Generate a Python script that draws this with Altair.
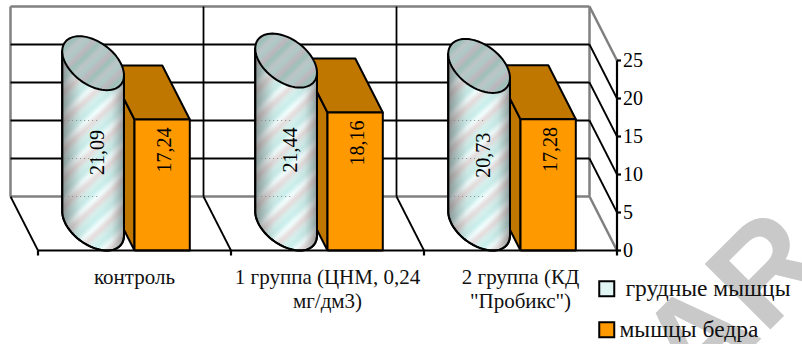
import math
import altair as alt
import pandas as pd

categories = ["контроль", "1 группа (ЦНМ, 0,24\nмг/дм3)", "2 группа (КД\n\"Пробикс\")"]
series_names = ["\u200b\u00a0грудные мышцы", "мышцы бедра"]
breast_values = [21.09, 21.44, 20.73]
thigh_values = [17.24, 18.16, 17.28]
value_ticks = [0, 5, 10, 15, 20, 25]

SERIF = "Liberation Serif"
W, H = 802, 344
PX_PER_CAT, PX_PER_VALUE = 193, 7.6
ORIGIN_X, ORIGIN_Y = 38, 250.5
# Oblique projection of the chart depth, in scale units
DEPTH_X, DEPTH_Y = -27.5 / PX_PER_CAT, 54 / PX_PER_VALUE
BAR_W = 55.3 / PX_PER_CAT
GAP = (1 - 2 * BAR_W) / 2

x_scale = alt.Scale(domain=[-ORIGIN_X / PX_PER_CAT, (W - ORIGIN_X) / PX_PER_CAT], range=[0, W], nice=False, zero=False)
y_scale = alt.Scale(domain=[(ORIGIN_Y - H) / PX_PER_VALUE, ORIGIN_Y / PX_PER_VALUE], range=[H, 0], nice=False, zero=False)
X = alt.X("x:Q", scale=x_scale, axis=None)
Y = alt.Y("y:Q", scale=y_scale, axis=None)


def segments(rows, color, width, dash=None):
    kw = {"strokeDash": dash} if dash else {}
    return alt.Chart(pd.DataFrame(rows, columns=["x", "y", "x2", "y2"])).mark_rule(
        color=color, strokeWidth=width, **kw
    ).encode(x=X, y=Y, x2="x2:Q", y2="y2:Q")


def polygons(shapes, fill, stroke="black", width=2.0):
    rows = []
    for sid, pts in enumerate(shapes):
        for i, (px, py) in enumerate(list(pts) + [pts[0]]):
            rows.append({"sid": sid, "i": i, "x": px, "y": py})
    kw = {"stroke": stroke, "strokeWidth": width} if stroke else {"strokeWidth": 0}
    return alt.Chart(pd.DataFrame(rows)).mark_line(
        fill=fill, strokeJoin="round", **kw
    ).encode(x=X, y=Y, detail="sid:N", order="i:Q")


def ellipse_point(cx, cy, t):
    half = BAR_W / 2
    return (cx + half * math.cos(t) + DEPTH_X / 2 * math.sin(t),
            cy + DEPTH_Y / 2 * math.sin(t))


def striped(colors, periods, w, h):
    # Diagonal bands at 45 degrees, corrected for the box proportions
    r = h / w
    ux = (1 + r) / (1 + r * r)
    stops = []
    n = len(colors)
    total = periods * n
    for k in range(total + 1):
        stops.append(alt.GradientStop(offset=k / total, color=colors[k % n]))
    return alt.LinearGradient(gradient="linear", stops=stops, x1=0, y1=0, x2=ux, y2=ux * r)


# Walls and floor
top = value_ticks[-1]
back_gray = [
    (DEPTH_X, DEPTH_Y, DEPTH_X, top + DEPTH_Y),
    (DEPTH_X, top + DEPTH_Y, 3 + DEPTH_X, top + DEPTH_Y),
    (3 + DEPTH_X, DEPTH_Y, 3 + DEPTH_X, top + DEPTH_Y),
    (DEPTH_X, DEPTH_Y, 3 + DEPTH_X, DEPTH_Y),
    (3 + DEPTH_X, top + DEPTH_Y, 3, top),
    (3 + DEPTH_X, DEPTH_Y, 3, 0),
]
grid_black = []
for v in value_ticks[1:-1]:
    grid_black.append((DEPTH_X, v + DEPTH_Y, 3 + DEPTH_X, v + DEPTH_Y))
    grid_black.append((3 + DEPTH_X, v + DEPTH_Y, 3, v))
for c in (1, 2):
    grid_black.append((c + DEPTH_X, DEPTH_Y, c + DEPTH_X, top + DEPTH_Y))
for c in (0, 1, 2):
    grid_black.append((c + DEPTH_X, DEPTH_Y, c, 0))

# Prism bars for the thigh series
bar_fronts, bar_tops, bar_sides = [], [], []
for c, v in enumerate(thigh_values):
    x0 = c + GAP + BAR_W
    x1 = x0 + BAR_W
    bar_fronts.append([(x0, 0), (x1, 0), (x1, v), (x0, v)])
    bar_tops.append([(x0, v), (x1, v), (x1 + DEPTH_X, v + DEPTH_Y), (x0 + DEPTH_X, v + DEPTH_Y)])
    bar_sides.append([(x0, 0), (x0, v), (x0 + DEPTH_X, v + DEPTH_Y), (x0 + DEPTH_X, DEPTH_Y)])

# Cylinders for the breast series
cyl_bodies, cyl_tops, faint_grid = [], [], []
t0 = math.atan2(DEPTH_X / 2, BAR_W / 2)
for c, v in enumerate(breast_values):
    cx = c + GAP + BAR_W / 2 + DEPTH_X / 2
    base_y, top_y = DEPTH_Y / 2, v + DEPTH_Y / 2
    steps = 48
    arc = [ellipse_point(cx, base_y, t0 - math.pi * k / steps) for k in range(steps + 1)]
    right_top = ellipse_point(cx, top_y, t0)
    left_top = ellipse_point(cx, top_y, t0 - math.pi)
    cyl_bodies.append([right_top] + arc + [left_top])
    cyl_tops.append([ellipse_point(cx, top_y, 2 * math.pi * k / 72) for k in range(72)])
    left_x = left_top[0]
    for g in value_ticks[:-1]:
        if g + DEPTH_Y < top_y - DEPTH_Y / 2:
            faint_grid.append((left_x + 0.01, g + DEPTH_Y, left_x + 0.19, g + DEPTH_Y))

body_fill = striped(["#c9efec", "#f2fefe", "#e6dcdc", "#d6efec"], 9, 62, 215)
top_fill = striped(["#aec9c7", "#bdb7bd", "#9dc0b9", "#bcc4c6"], 4, 62, 56)
edge_shade = alt.LinearGradient(
    gradient="linear", x1=0, y1=0, x2=1, y2=0,
    stops=[
        alt.GradientStop(offset=0, color="rgba(70,70,70,0.55)"),
        alt.GradientStop(offset=0.3, color="rgba(120,120,120,0.08)"),
        alt.GradientStop(offset=0.55, color="rgba(255,255,255,0)"),
        alt.GradientStop(offset=0.8, color="rgba(120,120,120,0.10)"),
        alt.GradientStop(offset=1, color="rgba(70,70,70,0.5)"),
    ],
)

# Stamp lettering behind the chart
stamp = alt.Chart(pd.DataFrame({"x": [(695 - ORIGIN_X) / PX_PER_CAT], "y": [(ORIGIN_Y - 405) / PX_PER_VALUE], "t": ["AR"]})).mark_text(
    font="Liberation Sans", fontSize=135, fontWeight="bold", angle=315, align="left", baseline="alphabetic", color="#c9c9c9"
).encode(x=X, y=Y, text="t:N")

# Value labels, set lower than the tops as in a rotated 3-D label
labels = pd.DataFrame(
    [{"x": c + GAP + BAR_W / 2 - 0.045, "y": v - 8.2, "t": f"{v:.2f}".replace(".", ",")} for c, v in enumerate(breast_values)]
    + [{"x": c + GAP + 1.5 * BAR_W + 0.015, "y": v - 4.0, "t": f"{v:.2f}".replace(".", ",")} for c, v in enumerate(thigh_values)]
)
value_labels = alt.Chart(labels).mark_text(
    font=SERIF, fontSize=20, angle=270, align="center", baseline="middle", color="black"
).encode(x=X, y=Y, text="t:N")

cat_labels = alt.Chart(pd.DataFrame({"x": [c + 0.5 for c in range(3)], "y": [-2.2] * 3, "t": categories})).mark_text(
    font=SERIF, fontSize=21, lineBreak="\n", lineHeight=24, align="center", baseline="top", color="#111111"
).encode(x=X, y=Y, text="t:N")

# Front axes: baseline, value axis, ticks and value tick labels
axis_lines = [(0, 0, 3, 0), (3, 0, 3, top)]
axis_lines += [(3, v, 3 + 4 / PX_PER_CAT, v) for v in value_ticks]
axis_lines += [(c, 0, c, -5 / PX_PER_VALUE) for c in range(4)]
tick_labels = alt.Chart(pd.DataFrame({"x": [3 + 6 / PX_PER_CAT] * len(value_ticks), "y": value_ticks, "t": [str(v) for v in value_ticks]})).mark_text(
    font=SERIF, fontSize=20, align="left", baseline="middle", color="black"
).encode(x=X, y=Y, text="t:N")

legend_layer = alt.Chart(pd.DataFrame({"s": series_names, "x": [0, 0], "y": [0, 0]})).mark_point(
    filled=True, shape="square", size=0
).encode(
    x=X, y=Y,
    fill=alt.Fill("s:N", scale=alt.Scale(domain=series_names, range=["#e2f5f5", "#ff9900"]), legend=alt.Legend(
        orient="none", legendX=595, legendY=277, title=None, symbolType="square", symbolSize=225,
        symbolStrokeColor="black", symbolStrokeWidth=2, symbolOpacity=1, labelFont=SERIF, labelFontSize=23.5,
        labelColor="#111111", labelOffset=1, rowPadding=16, labelLimit=220, padding=0,
    )),
)

chart = alt.layer(
    stamp,
    segments(back_gray, "#808080", 2.5),
    segments(grid_black, "black", 1.8),
    polygons(bar_sides, "#c07700"),
    polygons(bar_tops, "#c07700"),
    polygons(bar_fronts, "#ff9900"),
    polygons(cyl_bodies, body_fill),
    polygons(cyl_bodies, edge_shade, stroke=None),
    polygons(cyl_bodies, "transparent"),
    segments(faint_grid, "#8a8a8a", 1, dash=[1, 3]),
    polygons(cyl_tops, top_fill),
    value_labels,
    cat_labels,
    legend_layer,
    segments(axis_lines, "black", 2.2),
    tick_labels,
).properties(
    width=W, height=H, padding=0, autosize=alt.AutoSizeParams(type="none"), background="white"
).configure_view(stroke=None)

chart.save("out.html", embed_options={"renderer": "svg", "actions": False})
